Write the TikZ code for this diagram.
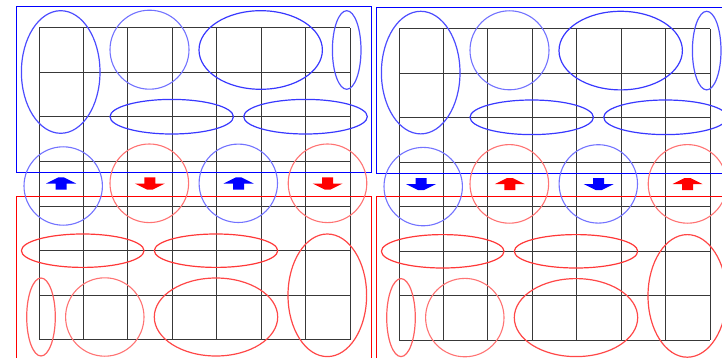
\documentclass[tikz,border=0pt]{standalone}
\begin{document}
\begin{tikzpicture}[x=1pt,y=-1pt,
  gridline/.style={draw=black!78, line width=1pt},
  bluebox/.style={draw=blue, line width=1pt},
  redbox/.style={draw=red, line width=1pt},
  bell/.style={draw=blue!78, line width=1.2pt},
  bcirc/.style={draw=blue!55, line width=1.1pt},
  rell/.style={draw=red!78, line width=1.2pt},
  rcirc/.style={draw=red!55, line width=1.1pt},
  uparr/.pic={\fill[#1] (-15,0) -- (-3,-6) -- (3,-6) -- (15,0) -- (5.5,0) -- (5.5,6) -- (-5.5,6) -- (-5.5,0) -- cycle;},
  downarr/.pic={\fill[#1] (-15,0) -- (-3,6) -- (3,6) -- (15,0) -- (5.5,0) -- (5.5,-6) -- (-5.5,-6) -- (-5.5,0) -- cycle;}
]
\useasboundingbox (0,0) rectangle (722,358);
\clip (0,0) rectangle (722,358);
\newcommand\drawpanel[2]{%
  \foreach \i in {0,...,7} {
    \draw[gridline] ({39+44.43*\i},28) -- ({39+44.43*\i},339.5);
    \draw[gridline] (39,{28+44.5*\i}) -- (350,{28+44.5*\i});
  }
  \draw[bluebox] (16.7,6.5) rectangle (371.3,172.7);
  \draw[redbox] (16.7,196) rectangle (371.3,365);
  % blue ellipses
  \draw[bell,draw=blue!70] (60.7,72) ellipse [x radius=39.3pt, y radius=61.3pt];
  \draw[bcirc] (149.5,49.7) circle [radius=39.5pt];
  \draw[bell] (260.7,50) ellipse [x radius=61.7pt, y radius=39.3pt];
  \draw[bell,draw=blue!68] (346.7,50) ellipse [x radius=14.3pt, y radius=39.3pt];
  \draw[bell] (171.7,116.7) ellipse [x radius=61.7pt, y radius=17.3pt];
  \draw[bell] (305.5,116.7) ellipse [x radius=61.8pt, y radius=17.3pt];
  \draw[bcirc] (63.2,186) circle [radius=39.2pt];
  \draw[bcirc] (238.3,183.3) circle [radius=39.2pt];
  % red ellipses
  \draw[rcirc] (149.3,183.3) circle [radius=39.3pt];
  \draw[rcirc] (327.5,183.3) circle [radius=39.3pt];
  \draw[rell] (82.7,250.7) ellipse [x radius=61.3pt, y radius=16.7pt];
  \draw[rell] (216,250.7) ellipse [x radius=61.7pt, y radius=16.7pt];
  \draw[rell,draw=red!72] (327.3,295.3) ellipse [x radius=39.3pt, y radius=61.3pt];
  \draw[rell,draw=red!62] (41,317) ellipse [x radius=14.3pt, y radius=39pt];
  \draw[rcirc] (104.8,317) circle [radius=39.2pt];
  \draw[rell,draw=red!72] (216,317) ellipse [x radius=61.7pt, y radius=39pt];
  % arrows
  \pic at (61,183.5) {#1=blue};
  \pic at (149.8,183.5) {#2=red};
  \pic at (238.7,183.5) {#1=blue};
  \pic at (327.5,183.5) {#2=red};
}
\begin{scope}
  \drawpanel{uparr}{downarr}
\end{scope}
\begin{scope}[shift={(360,0.6)}]
  \drawpanel{downarr}{uparr}
\end{scope}
\end{tikzpicture}
\end{document}
